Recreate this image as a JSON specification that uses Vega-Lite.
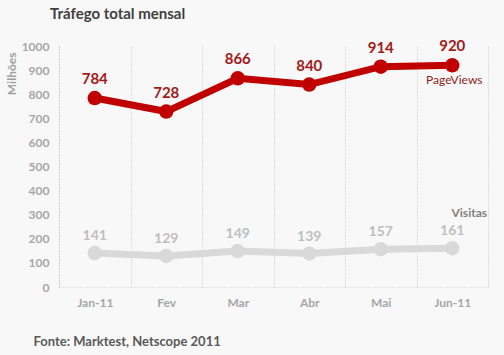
{
  "$schema": "https://vega.github.io/schema/vega-lite/v6.json",
  "autosize": "none",
  "width": 429,
  "height": 241,
  "padding": {"left": 59, "top": 46, "right": 16, "bottom": 68},
  "background": "#f8f8f8",
  "config": {
    "view": {"stroke": null},
    "font": "Lato",
    "title": {"font": "Lato"}
  },
  "title": {
    "text": "Tráfego total mensal",
    "anchor": "start",
    "frame": "group",
    "dx": -9,
    "offset": 17,
    "fontSize": 15,
    "fontWeight": "bold",
    "color": "#3f3f3f"
  },
  "data": {
    "values": [
      {"month": "Jan-11", "series": "PageViews", "value": 784},
      {"month": "Fev", "series": "PageViews", "value": 728},
      {"month": "Mar", "series": "PageViews", "value": 866},
      {"month": "Abr", "series": "PageViews", "value": 840},
      {"month": "Mai", "series": "PageViews", "value": 914},
      {"month": "Jun-11", "series": "PageViews", "value": 920},
      {"month": "Jan-11", "series": "Visitas", "value": 141},
      {"month": "Fev", "series": "Visitas", "value": 129},
      {"month": "Mar", "series": "Visitas", "value": 149},
      {"month": "Abr", "series": "Visitas", "value": 139},
      {"month": "Mai", "series": "Visitas", "value": 157},
      {"month": "Jun-11", "series": "Visitas", "value": 161}
    ]
  },
  "encoding": {
    "x": {
      "field": "month",
      "type": "nominal",
      "sort": null,
      "scale": {"type": "band", "paddingInner": 0, "paddingOuter": 0},
      "axis": {
        "title": "Fonte: Marktest, Netscope 2011",
        "titleX": -26,
        "titleY": 58,
        "titleAlign": "left",
        "titleAnchor": null,
        "titleBaseline": "alphabetic",
        "titleFontSize": 13,
        "titleFontWeight": "bold",
        "titleColor": "#595959",
        "labelAngle": 0,
        "labelFontSize": 12,
        "labelFontWeight": "bold",
        "labelColor": "#a6a6a6",
        "labelPadding": 10,
        "ticks": false,
        "tickBand": "extent",
        "grid": true,
        "gridColor": "#c0c0c0",
        "gridDash": [1, 2],
        "gridWidth": 1,
        "domainColor": "#d0d0d0",
        "domainDash": [1, 2]
      }
    },
    "y": {
      "field": "value",
      "type": "quantitative",
      "scale": {"domain": [0, 1000], "nice": false},
      "axis": {
        "title": "Milhões",
        "titleX": -48,
        "titleY": 6,
        "titleAngle": -90,
        "titleAlign": "right",
        "titleAnchor": null,
        "titleBaseline": "middle",
        "titleFontSize": 12,
        "titleFontWeight": "bold",
        "titleColor": "#a0a0a0",
        "values": [0, 100, 200, 300, 400, 500, 600, 700, 800, 900, 1000],
        "format": "d",
        "labelFontSize": 12,
        "labelFontWeight": "bold",
        "labelColor": "#a6a6a6",
        "labelPadding": 10,
        "ticks": false,
        "grid": false,
        "domainColor": "#c0c0c0",
        "domainDash": [1, 2]
      }
    }
  },
  "layer": [
    {
      "mark": {"type": "line", "strokeWidth": 7, "strokeCap": "round", "point": {"size": 210, "filled": true, "opacity": 1}},
      "encoding": {
        "color": {
          "field": "series",
          "type": "nominal",
          "scale": {"domain": ["PageViews", "Visitas"], "range": ["#c00000", "#d9d9d9"]},
          "legend": null
        }
      }
    },
    {
      "transform": [{"filter": "datum.series == 'PageViews'"}],
      "mark": {"type": "text", "dy": -19, "fontSize": 15, "fontWeight": "bold", "color": "#a31a1a"},
      "encoding": {"text": {"field": "value", "type": "quantitative"}}
    },
    {
      "transform": [{"filter": "datum.series == 'Visitas'"}],
      "mark": {"type": "text", "dy": -17, "fontSize": 14, "fontWeight": "bold", "color": "#bfbfbf"},
      "encoding": {"text": {"field": "value", "type": "quantitative"}}
    },
    {
      "transform": [{"filter": "datum.series == 'PageViews' && datum.month == 'Jun-11'"}],
      "mark": {"type": "text", "dx": 2, "dy": 15, "fontSize": 12, "color": "#8e1c1c"},
      "encoding": {"text": {"field": "series", "type": "nominal"}}
    },
    {
      "transform": [{"filter": "datum.series == 'Visitas' && datum.month == 'Jun-11'"}],
      "mark": {"type": "text", "dx": 17, "dy": -35, "fontSize": 12, "fontWeight": "bold", "color": "#7f7f7f"},
      "encoding": {"text": {"field": "series", "type": "nominal"}}
    }
  ]
}
